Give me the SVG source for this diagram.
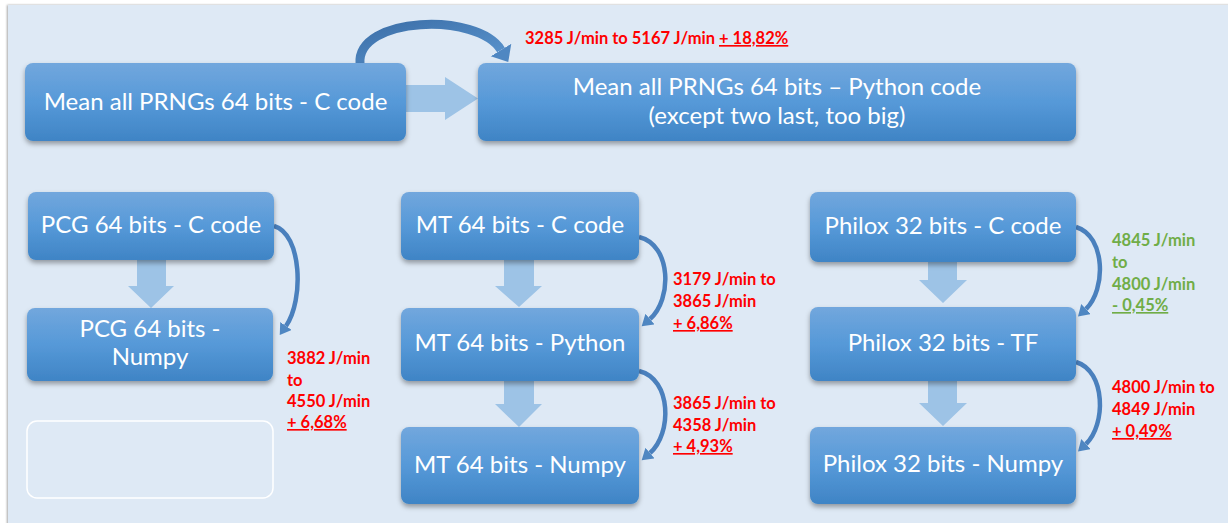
<svg xmlns="http://www.w3.org/2000/svg" width="1228" height="523" viewBox="0 0 1228 523">
<defs>
<linearGradient id="nodeGrad" x1="0" y1="0" x2="0" y2="1">
<stop offset="0" stop-color="#72A7DD"/>
<stop offset="0.5" stop-color="#5699D8"/>
<stop offset="1" stop-color="#3F84C5"/>
</linearGradient>
<linearGradient id="curveGrad" x1="0" y1="0" x2="1" y2="1">
<stop offset="0" stop-color="#3C6FA8"/>
<stop offset="1" stop-color="#5B96D0"/>
</linearGradient>
<filter id="shadow" x="-10%" y="-10%" width="120%" height="140%">
<feDropShadow dx="0" dy="3" stdDeviation="2.5" flood-color="#000" flood-opacity="0.35"/>
</filter>
<filter id="pshadow" x="-2%" y="-2%" width="104%" height="104%">
<feDropShadow dx="-1" dy="0" stdDeviation="1.2" flood-color="#000" flood-opacity="0.35"/>
</filter>
<marker id="headBig" markerUnits="userSpaceOnUse" markerWidth="30" markerHeight="30" refX="0" refY="12" orient="auto">
<path d="M0,0 L14,12 L0,24 Z" fill="#4F87C2"/>
</marker>
<marker id="headSmall" markerUnits="userSpaceOnUse" markerWidth="20" markerHeight="20" refX="0" refY="7" orient="auto">
<path d="M0,0 L11,7 L0,14 Z" fill="#4F87C2"/>
</marker>
<style>
.node rect.box{fill:url(#nodeGrad);filter:url(#shadow);}
.ntext{font-family:Lato,"Liberation Sans",sans-serif;font-size:24px;fill:#FFFFFF;text-anchor:middle;}
.lbl{font-family:Lato,"Liberation Sans",sans-serif;font-size:16.5px;font-weight:bold;fill:#FF0000;}
.lblg{fill:#70AD47;}
.ul{text-decoration:underline;}
.block{fill:#9DC3E6;}
.curve{fill:none;stroke:#4A80BD;stroke-width:4.5;marker-end:url(#headSmall);}
</style>
</defs>
<rect x="0" y="0" width="1228" height="523" fill="#FFFFFF"/>
<rect x="8" y="5" width="1230" height="530" fill="#DEE9F5" filter="url(#pshadow)"/>

<g id="connectors">
<path d="M406,85 L445,85 L445,77 L478,98.5 L445,120 L445,112 L406,112 Z" class="block"/>
<path d="M360,64 C356,16 478,12 501,50" fill="none" stroke="url(#curveGrad)" stroke-width="9" marker-end="url(#headBig)"/>
<path d="M137,260 L166,260 L166,286 L174,286 L151,308 L128,286 L137,286 Z" class="block"/>
<path d="M504,260 L534,260 L534,286 L542,286 L519,307 L495,286 L504,286 Z" class="block"/>
<path d="M504,381 L534,381 L534,404 L542,404 L519,427 L495,404 L504,404 Z" class="block"/>
<path d="M928,262 L957,262 L957,280 L967,280 L943,303 L919,280 L928,280 Z" class="block"/>
<path d="M928,381 L957,381 L957,403 L967,403 L943,426 L919,403 L928,403 Z" class="block"/>
<path d="M274,226 C302,234 304,300 286,326" class="curve"/>
<path d="M639,237 C672,245 672,300 650,319" class="curve"/>
<path d="M639,371 C672,379 672,434 650,453" class="curve"/>
<path d="M1076,227 C1106,236 1106,290 1086,309" class="curve"/>
<path d="M1076,362 C1106,371 1106,425 1086,444" class="curve"/>
</g>

<g id="node-mean-c" class="node">
<rect class="box" x="25" y="63" width="381" height="78" rx="8"/>
<text class="ntext" x="215.5" y="110">Mean all PRNGs 64 bits - C code</text>
</g>
<g id="node-mean-py" class="node">
<rect class="box" x="478" y="63" width="598" height="78" rx="8"/>
<text class="ntext" x="777" y="95">Mean all PRNGs 64 bits – Python code</text>
<text class="ntext" x="777" y="124">(except two last, too big)</text>
</g>
<g id="node-pcg-c" class="node">
<rect class="box" x="28" y="192" width="246" height="68" rx="8"/>
<text class="ntext" x="151" y="233">PCG 64 bits - C code</text>
</g>
<g id="node-pcg-numpy" class="node">
<rect class="box" x="27" y="308" width="246" height="73" rx="8"/>
<text class="ntext" x="150" y="337">PCG 64 bits -</text>
<text class="ntext" x="150" y="365">Numpy</text>
</g>
<g id="node-empty">
<rect x="27" y="421" width="246" height="77" rx="10" fill="none" stroke="#FFFFFF" stroke-width="1.5"/>
</g>
<g id="node-mt-c" class="node">
<rect class="box" x="401" y="192" width="238" height="68" rx="8"/>
<text class="ntext" x="520" y="233">MT 64 bits - C code</text>
</g>
<g id="node-mt-py" class="node">
<rect class="box" x="401" y="308" width="238" height="73" rx="8"/>
<text class="ntext" x="520" y="351">MT 64 bits - Python</text>
</g>
<g id="node-mt-numpy" class="node">
<rect class="box" x="401" y="427" width="238" height="77" rx="8"/>
<text class="ntext" x="520" y="473">MT 64 bits - Numpy</text>
</g>
<g id="node-philox-c" class="node">
<rect class="box" x="810" y="192" width="266" height="70" rx="8"/>
<text class="ntext" x="943" y="234">Philox 32 bits - C code</text>
</g>
<g id="node-philox-tf" class="node">
<rect class="box" x="810" y="307" width="266" height="74" rx="8"/>
<text class="ntext" x="943" y="351">Philox 32 bits - TF</text>
</g>
<g id="node-philox-numpy" class="node">
<rect class="box" x="810" y="427" width="266" height="77" rx="8"/>
<text class="ntext" x="943" y="472">Philox 32 bits - Numpy</text>
</g>

<g id="labels">
<text class="lbl" x="525" y="44">3285 J/min to 5167 J/min <tspan class="ul">+ 18,82%</tspan></text>
<text class="lbl" x="287" y="364">3882 J/min</text>
<text class="lbl" x="287" y="386">to</text>
<text class="lbl" x="287" y="407">4550 J/min</text>
<text class="lbl ul" x="287" y="428">+ 6,68%</text>
<text class="lbl" x="673" y="285">3179 J/min to</text>
<text class="lbl" x="673" y="307">3865 J/min</text>
<text class="lbl ul" x="673" y="329">+ 6,86%</text>
<text class="lbl" x="673" y="409">3865 J/min to</text>
<text class="lbl" x="673" y="431">4358 J/min</text>
<text class="lbl ul" x="673" y="452">+ 4,93%</text>
<text class="lbl lblg" x="1112" y="246">4845 J/min</text>
<text class="lbl lblg" x="1112" y="268">to</text>
<text class="lbl lblg" x="1112" y="290">4800 J/min</text>
<text class="lbl lblg ul" x="1112" y="311">- 0,45%</text>
<text class="lbl" x="1112" y="393">4800 J/min to</text>
<text class="lbl" x="1112" y="415">4849 J/min</text>
<text class="lbl ul" x="1112" y="437">+ 0,49%</text>
</g>
</svg>
